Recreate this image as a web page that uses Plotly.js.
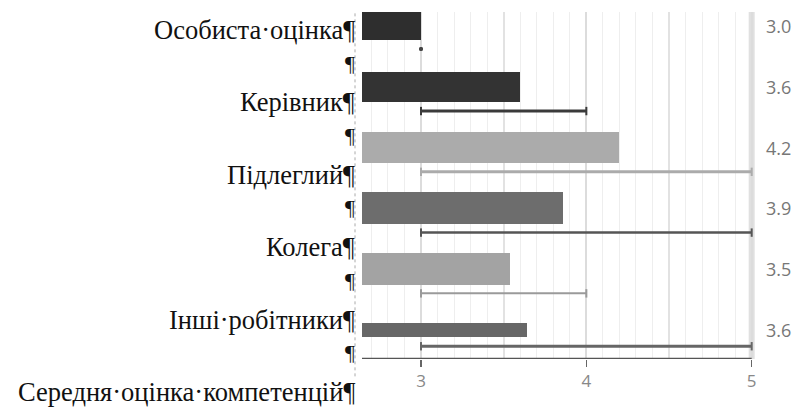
<!DOCTYPE html>
<html>
<head>
<meta charset="utf-8">
<script src="https://cdn.plot.ly/plotly-3.0.1.min.js"></script>
<style>html,body{margin:0;padding:0;background:#fff;}#chart{width:800px;height:412px;}</style>
</head>
<body>
<div id="chart"></div>
<script>
// ---- data ----
const categories = ["Особиста·оцінка", "Керівник", "Підлеглий", "Колега", "Інші·робітники", "Середня·оцінка·компетенцій"];
const barValues = [3.0, 3.6, 4.2, 3.86, 3.54, 3.64];
const rangeMin = [3, 3, 3, 3, 3, 3];
const rangeMax = [3, 4, 5, 5, 4, 5];
const xTickVals = [3, 4, 5];
const xTickText = ["3", "4", "5"];

// ---- styles ----
const barColors = ["#2e2e2e", "#333333", "#ababab", "#6d6d6d", "#a3a3a3", "#676767"];
const barWidths = [0.47, 0.5, 0.5, 0.52, 0.52, 0.23];
const lineColors = ["#444444", "#3a3a3a", "#ababab", "#555555", "#9a9a9a", "#666666"];
const lineWidths = [2, 3, 3, 2.5, 2, 3];
const lineOffsets = [0.38, 0.4, 0.4, 0.4, 0.4, 0.27];

const rows = barValues.map((v, i) => i);
const W = 800, H = 412;
const M = {l: 362, r: 45, t: 12, b: 53};
const plotH = H - M.t - M.b;
const plotW = W - M.l - M.r;
const xStart = 2.643, xEnd = 5.02;

const traces = [];
traces.push({
  type: "bar", orientation: "h",
  x: barValues, y: rows,
  width: barWidths,
  marker: {color: barColors, line: {width: 0}},
  hoverinfo: "skip", showlegend: false
});
rows.forEach(i => {
  const single = rangeMin[i] === rangeMax[i];
  traces.push({
    type: "scatter", mode: single ? "markers" : "lines+markers",
    x: [rangeMin[i], rangeMax[i]],
    y: [i + lineOffsets[i], i + lineOffsets[i]],
    line: {color: lineColors[i], width: lineWidths[i]},
    marker: single
      ? {symbol: "circle", size: 4, color: lineColors[i]}
      : {symbol: "line-ns", size: 6, line: {width: 2, color: lineColors[i]}},
    hoverinfo: "skip", showlegend: false
  });
});
// bottom axis baseline
traces.push({
  type: "scatter", mode: "lines",
  x: [xStart, Math.max(...rangeMax)], y: [5.48, 5.48],
  line: {color: "#555555", width: 2.5},
  hoverinfo: "skip", showlegend: false, cliponaxis: false
});
// half-unit grid helper on second axis
traces.push({type: "scatter", mode: "none", x: [3, 5], y: [0, 0], xaxis: "x2", hoverinfo: "skip", showlegend: false});

const annotations = [];
// right value labels
barValues.forEach((v, i) => {
  annotations.push({
    text: v.toFixed(1), xref: "paper", yref: "y", x: (778 - M.l) / plotW, y: i,
    xanchor: "center", yanchor: "middle", showarrow: false,
    font: {family: "Open Sans, sans-serif", size: 18, color: "#777777"}
  });
});
// left category labels (text frame)
const textRight = (357 - M.l) / plotW;
categories.forEach((c, i) => {
  const py = 30 + 72.4 * i;
  annotations.push({
    text: c + "¶", xref: "paper", yref: "paper", x: textRight, y: (H - M.b - py) / plotH,
    xanchor: "right", yanchor: "middle", showarrow: false,
    font: {family: "Liberation Serif, Times New Roman, serif", size: 26.5, color: "#111111"}
  });
  if (i < categories.length - 1) {
    const py2 = py + 33;
    annotations.push({
      text: "¶", xref: "paper", yref: "paper", x: textRight, y: (H - M.b - py2) / plotH,
      xanchor: "right", yanchor: "middle", showarrow: false,
      font: {family: "Liberation Serif, Times New Roman, serif", size: 22, color: "#111111"}
    });
  }
});

const layout = {
  width: W, height: H,
  margin: M,
  paper_bgcolor: "#ffffff", plot_bgcolor: "#ffffff",
  bargap: 0,
  xaxis: {
    range: [xStart, xEnd], tickvals: xTickVals, ticktext: xTickText,
    showgrid: true, gridcolor: "#dcdcdc", gridwidth: 2,
    minor: {tick0: 3, dtick: 0.1, showgrid: true, gridcolor: "#eeeeee", gridwidth: 1},
    ticks: "outside", ticklen: 7, tickcolor: "#666", tickwidth: 1.5,
    tickfont: {family: "Open Sans, sans-serif", size: 17, color: "#888888"},
    zeroline: false, showline: false, fixedrange: true
  },
  xaxis2: {
    overlaying: "x", range: [xStart, xEnd], tickvals: [3.5, 4.5],
    showticklabels: false, ticks: "", showgrid: true, gridcolor: "#e2e2e2", gridwidth: 2,
    zeroline: false, showline: false
  },
  yaxis: {
    range: [5.48, -0.23], showgrid: false, showticklabels: false, ticks: "",
    zeroline: false, showline: false, fixedrange: true
  },
  shapes: [
    {type: "line", xref: "x", yref: "paper", x0: 5, x1: 5, y0: 0, y1: 1, line: {color: "#e0e0e0", width: 6}, layer: "below"},
    {type: "line", xref: "paper", yref: "paper", x0: (355 - M.l) / plotW, x1: (355 - M.l) / plotW, y0: -0.05, y1: 1, line: {color: "#aaaaaa", width: 1, dash: "dot"}}
  ],
  annotations: annotations,
  showlegend: false
};

Plotly.newPlot("chart", traces, layout, {displayModeBar: false, staticPlot: true});
</script>
</body>
</html>
